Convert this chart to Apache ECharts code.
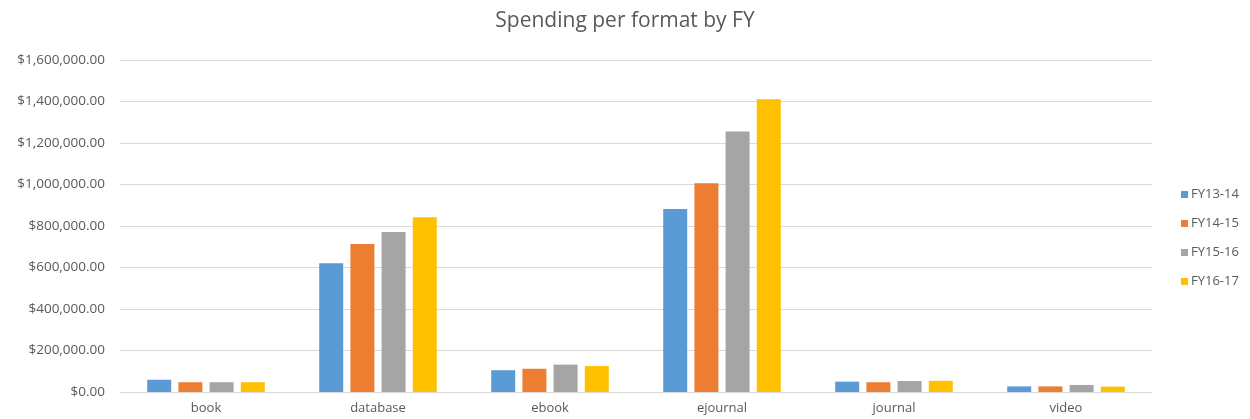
<!DOCTYPE html>
<html>
<head>
<meta charset="utf-8">
<script src="https://cdn.jsdelivr.net/npm/echarts@6/dist/echarts.min.js"></script>
<style>
  html, body { margin: 0; padding: 0; background: #fff; }
  #chart { width: 1250px; height: 419px; }
</style>
</head>
<body>
<div id="chart"></div>
<script>
// Spending per format, one series per fiscal year
const categories = ['book', 'database', 'ebook', 'ejournal', 'journal', 'video'];
const seriesNames = ['FY13-14', 'FY14-15', 'FY15-16', 'FY16-17'];
const fy1314 = [59000, 620000, 105000, 882000, 50000, 27000];
const fy1415 = [47000, 713000, 112000, 1006000, 47000, 27000];
const fy1516 = [47000, 771000, 132000, 1255000, 53000, 34000];
const fy1617 = [47000, 842000, 125000, 1411000, 54000, 26000];
const colors = ['#5B9BD5', '#ED7D31', '#A5A5A5', '#FFC000'];

const seriesData = [fy1314, fy1415, fy1516, fy1617];
const textColor = '#595959';
const font = '"Open Sans", "Liberation Sans", sans-serif';

function money(v) {
  return '$' + Number(v).toLocaleString('en-US', { minimumFractionDigits: 2, maximumFractionDigits: 2 });
}

const chart = echarts.init(document.getElementById('chart'), null, { renderer: 'canvas' });
chart.setOption({
  animation: false,
  color: colors,
  title: {
    text: 'Spending per format by FY',
    left: 'center',
    top: 6,
    textStyle: { color: textColor, fontFamily: font, fontSize: 21, fontWeight: 'normal' }
  },
  legend: {
    orient: 'vertical',
    left: 1176,
    top: 183,
    itemWidth: 7,
    itemHeight: 7,
    itemGap: 16,
    icon: 'rect',
    textStyle: { color: textColor, fontFamily: font, fontSize: 13, padding: [0, 0, 0, -2] },
    data: seriesNames
  },
  grid: { left: 120, right: 98, top: 60, bottom: 27, containLabel: false },
  xAxis: {
    type: 'category',
    data: categories,
    axisLine: { lineStyle: { color: '#D9D9D9' } },
    axisTick: { show: false },
    axisLabel: { color: textColor, fontFamily: font, fontSize: 13, margin: 10 }
  },
  yAxis: {
    type: 'value',
    min: 0,
    max: 1600000,
    interval: 200000,
    axisLine: { show: false },
    axisTick: { show: false },
    splitLine: { lineStyle: { color: '#D9D9D9' } },
    axisLabel: { color: textColor, fontFamily: font, fontSize: 13.5, margin: 15, formatter: money }
  },
  series: seriesNames.map((name, i) => ({
    name: name,
    type: 'bar',
    data: seriesData[i],
    barWidth: 24,
    barGap: '30%',
    itemStyle: { color: colors[i] }
  }))
});
</script>
</body>
</html>
